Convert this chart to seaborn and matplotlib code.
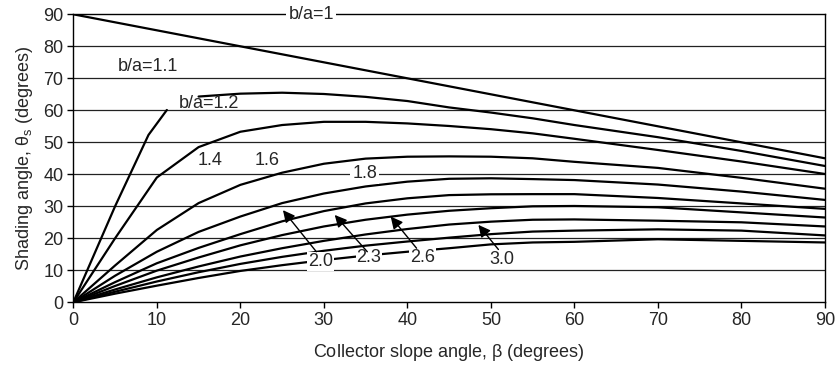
import numpy as np
import pandas as pd
import seaborn as sns
from matplotlib import pyplot as plt

# collector slope angle (deg) where the curves are sampled
beta = [0, 5, 10, 15, 20, 25, 30, 35, 40, 45, 50, 55, 60, 70, 80, 90]

# shading angle (deg) for each b/a ratio
ba_1_0 = [90, 87.5, 85, 82.5, 80, 77.5, 75, 72.5, 70, 67.5, 65, 62.5, 60, 55, 50, 45]
ba_1_2 = [0, 20, 39, 48.5, 53.3, 55.4, 56.4, 56.4, 55.9, 55.1, 54.1, 52.8, 51.1, 47.6, 44.0, 40.1]
ba_1_4 = [0, 11.5, 22.6, 31, 36.7, 40.5, 43.3, 44.9, 45.5, 45.6, 45.5, 45, 43.9, 42, 38.9, 35.5]
ba_1_6 = [0, 8.3, 15.8, 22, 26.8, 31, 34, 36.2, 37.7, 38.6, 38.75, 38.5, 38.2, 36.8, 34.6, 32]
ba_1_8 = [0, 6.3, 12.2, 17, 21.3, 25.3, 28.5, 30.9, 32.5, 33.5, 33.75, 33.8, 33.8, 32.6, 30.9, 29.2]
ba_2_0 = [0, 5.1, 9.9, 14, 17.8, 21, 23.7, 25.8, 27.4, 28.6, 29.4, 30, 30.1, 29.7, 28.1, 26.5]
ba_2_3 = [0, 4, 7.8, 11.2, 14.3, 16.9, 19.2, 21.2, 22.9, 24.3, 25.2, 25.8, 25.9, 25.5, 25, 23.7]
ba_2_6 = [0, 3.3, 6.5, 9.4, 12, 14.2, 16.1, 17.7, 19, 20.2, 21.3, 22.1, 22.4, 22.8, 22.4, 20.9]
ba_3_0 = [0, 2.7, 5.2, 7.6, 9.8, 11.6, 13.2, 14.6, 15.8, 16.9, 18.1, 18.7, 18.9, 19.7, 19.2, 18.7]

# b/a = 1.1 is drawn in two pieces (rising part and the part after the label)
beta_11_low = [0, 5, 9, 11.2]
ba_1_1_low = [0, 30, 52.3, 60.1]
beta_11_up = [15, 20, 25, 30, 35, 40, 45, 50, 55, 60, 70, 80, 90]
ba_1_1_up = [64.3, 65.2, 65.5, 65.1, 64.2, 62.9, 60.9, 59.3, 57.5, 55.4, 51.6, 47.3, 42.6]

sns.set_style("white")
plt.rcParams['font.family'] = ['Liberation Sans', 'DejaVu Sans']

fig = plt.figure(figsize=(8.36, 3.67), dpi=100)
ax = fig.add_axes([0.0877, 0.1763, 0.8991, 0.7847])

for v in range(10, 90, 10):
    ax.axhline(v, color='#222222', lw=0.9, zorder=1)

curves = [ba_1_0, ba_1_2, ba_1_4, ba_1_6, ba_1_8, ba_2_0, ba_2_3, ba_2_6, ba_3_0]
for c in curves:
    sns.lineplot(x=beta, y=c, color='black', lw=1.6, ax=ax, estimator=None, sort=False, zorder=2)
sns.lineplot(x=beta_11_low, y=ba_1_1_low, color='black', lw=1.6, ax=ax, estimator=None, sort=False, zorder=2)
sns.lineplot(x=beta_11_up, y=ba_1_1_up, color='black', lw=1.6, ax=ax, estimator=None, sort=False, zorder=2)

fs = 13
ax.set_xlim(0, 90)
ax.set_ylim(0, 90)
ax.set_xticks(range(0, 91, 10))
ax.set_yticks(range(0, 91, 10))
ax.tick_params(axis='both', labelsize=fs, length=4, width=1, direction='out',
               bottom=True, left=True, color='black', pad=3)
for s in ax.spines.values():
    s.set_color('black')
    s.set_linewidth(1.0)

ax.set_xlabel(r'Collector slope angle, $\mathregular{\beta}$ (degrees)', fontsize=fs, labelpad=9)
ax.set_ylabel(r'Shading angle, $\mathregular{\theta_s}$ (degrees)', fontsize=fs, labelpad=6)

wb = dict(facecolor='white', edgecolor='none', pad=1.5)
wb_small = dict(facecolor='white', edgecolor='none', pad=0.6)
ax.text(28.5, 90, 'b/a=1', fontsize=fs, ha='center', va='center', bbox=wb, zorder=5, clip_on=False)
ax.text(8.9, 73.8, 'b/a=1.1', fontsize=fs, ha='center', va='center', zorder=5)
ax.text(16.3, 62.0, 'b/a=1.2', fontsize=fs, ha='center', va='center', zorder=5)
ax.text(16.4, 44.2, '1.4', fontsize=fs, ha='center', va='center', zorder=5)
ax.text(23.2, 44.2, '1.6', fontsize=fs, ha='center', va='center', zorder=5)
ax.text(34.9, 40.2, '1.8', fontsize=fs, ha='center', va='center', bbox=wb, zorder=5)

arrow_labels = [
    ('2.0', (29.6, 12.8), (29.1, 15.8), (25.1, 28.8)),
    ('2.3', (35.4, 13.9), (35.2, 15.8), (31.3, 27.3)),
    ('2.6', (41.8, 13.9), (41.1, 16.9), (38.0, 26.8)),
    ('3.0', (51.3, 13.5), (50.9, 16.5), (48.5, 24.2)),
]
for txt, pos, tail, head in arrow_labels:
    ax.text(pos[0], pos[1], txt, fontsize=fs, ha='center', va='center', bbox=wb_small, zorder=5)
    ax.annotate('', xy=head, xytext=tail,
                arrowprops=dict(arrowstyle='-|>', color='black', lw=1.0,
                                mutation_scale=18, shrinkA=0, shrinkB=0), zorder=6)

fig.savefig('out.png', dpi=100)
